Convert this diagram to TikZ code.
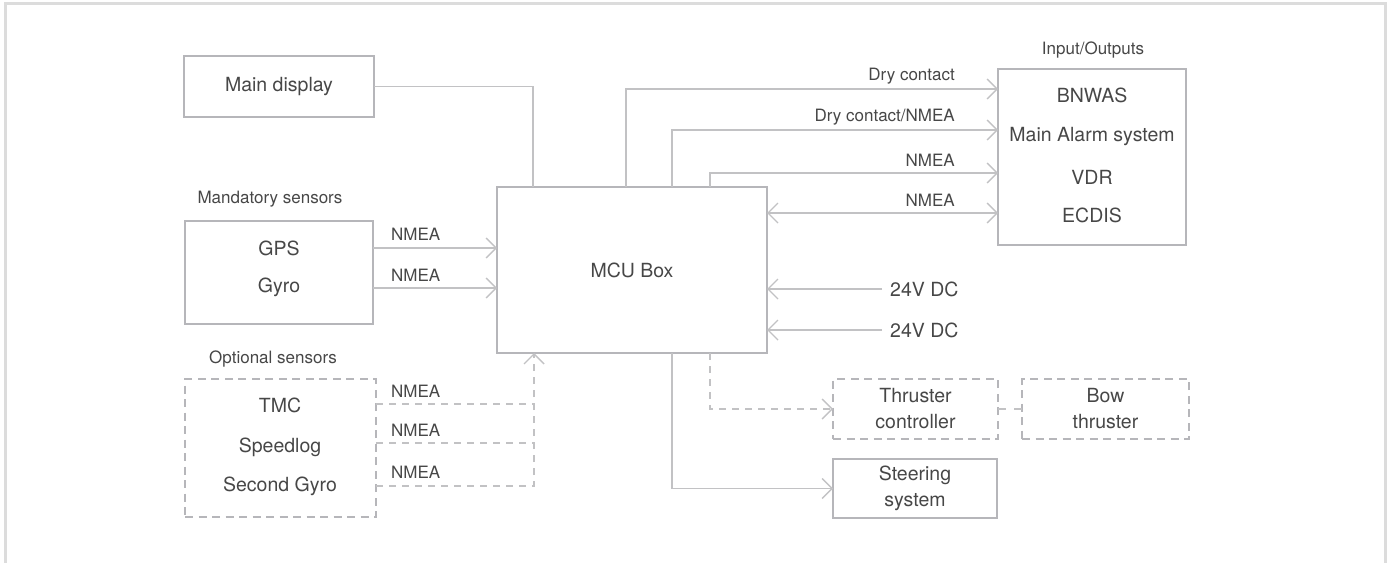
\documentclass[tikz,border=0pt]{standalone}
\usepackage{fontspec}
\setmainfont{TeX Gyre Heros}
\usetikzlibrary{arrows.meta}
\definecolor{boxc}{HTML}{B6B6BA}
\definecolor{linec}{HTML}{C2C2C4}
\definecolor{framec}{HTML}{DCDCDC}
\definecolor{txt}{HTML}{474747}
\begin{document}
\begin{tikzpicture}[x=1pt,y=-1pt,
  box/.style={draw=boxc,line width=2.6pt,inner sep=0pt,outer sep=0pt,text=txt,
    font=\fontsize{19.5}{26}\selectfont,align=center},
  dbox/.style={box,dash pattern=on 8pt off 5.5pt},
  txtm/.style={text=txt,inner sep=0pt,font=\fontsize{19.5}{26}\selectfont},
  lbl/.style={text=txt,inner sep=0pt,font=\fontsize{17}{20}\selectfont},
  conn/.style={draw=linec,line width=1.4pt},
  dconn/.style={conn,dash pattern=on 7pt off 6pt},
  arr/.style={-{Straight Barb[length=10pt,width=20pt]}},
  barr/.style={{Straight Barb[length=10pt,width=20pt]}-{Straight Barb[length=10pt,width=20pt]}}
]
\useasboundingbox (0,0) rectangle (1391,562);
\draw[draw=framec,line width=3pt] (5,563) -- (5,3.5) -- (1385,3.5) -- (1385,563);

% boxes
\node[box,minimum width=190pt,minimum height=61pt] (maindisp) at (279,86.5) {Main display};
\node[box,minimum width=188pt,minimum height=103pt] (mand) at (279,272.5) {};
\node[dbox,minimum width=191pt,minimum height=138pt] (opt) at (280.5,448) {};
\node[box,minimum width=270pt,minimum height=166pt] (mcu) at (632,270) {MCU Box};
\node[box,minimum width=188pt,minimum height=176pt] (io) at (1092,157) {};
\node[dbox,minimum width=165pt,minimum height=60pt] (thr) at (915.5,409) {Thruster\\controller};
\node[dbox,minimum width=167pt,minimum height=60pt] (bow) at (1105.5,409) {Bow\\thruster};
\node[box,minimum width=164pt,minimum height=59pt] (steer) at (915,488.5) {Steering\\system};

% box texts
\node[lbl] (mandlbl) at (270,199) {Mandatory sensors};
\node[lbl] (optlbl) at (273,359) {Optional sensors};
\node[lbl] (iolbl) at (1093,50) {Input/Outputs};
\node[txtm] (gps) at (279,248) {GPS};
\node[txtm] (gyro) at (279,287) {Gyro};
\node[txtm] (tmc) at (280,405) {TMC};
\node[txtm] (speed) at (280,447) {Speedlog};
\node[txtm] (gyro2) at (280,486) {Second Gyro};
\node[txtm] (bnwas) at (1092,95) {BNWAS};
\node[txtm] (alarm) at (1092,137) {Main Alarm system};
\node[txtm] (vdr) at (1092,177) {VDR};
\node[txtm] (ecdis) at (1092,215) {ECDIS};

% coordinates on boxes
\coordinate (mt1) at (533,187);
\coordinate (mt2) at (626,187);
\coordinate (mt3) at (672,187);
\coordinate (mt4) at (710,187);
\coordinate (mb1) at (534,353);
\coordinate (mb2) at (672,353);
\coordinate (mb3) at (710,353);
\coordinate (io1) at (998,89);
\coordinate (io2) at (998,130);
\coordinate (io3) at (998,173);

% connectors top
\draw[conn] (maindisp.east) -| (mt1);
\draw[conn,arr] (mt2) |- (io1);
\draw[conn,arr] (mt3) |- (io2);
\draw[conn,arr] (mt4) |- (io3);
\draw[conn,barr] (mcu.east |- 0,213) -- (io.west |- 0,213);
\node[lbl,anchor=east] (l1) at (955,76) {Dry contact};
\node[lbl,anchor=east] (l2) at (955,117) {Dry contact/NMEA};
\node[lbl,anchor=east] (l3) at (955,160) {NMEA};
\node[lbl,anchor=east] (l4) at (955,200) {NMEA};

% mandatory sensors
\draw[conn,arr] (mand.east |- 0,248) -- (mcu.west |- 0,248);
\draw[conn,arr] (mand.east |- 0,288) -- (mcu.west |- 0,288);
\node[lbl,anchor=west] (n1) at (391,234) {NMEA};
\node[lbl,anchor=west] (n2) at (391,275) {NMEA};

% optional sensors
\coordinate (oj1) at (534,404);
\coordinate (oj2) at (534,443);
\draw[dconn] (opt.east |- oj1) -- (oj1);
\draw[dconn] (opt.east |- oj2) -- (oj2);
\draw[dconn,arr] (opt.east |- 0,486) -| (mb1);
\node[lbl,anchor=west] (n3) at (391,391) {NMEA};
\node[lbl,anchor=west] (n4) at (391,430) {NMEA};
\node[lbl,anchor=west] (n5) at (391,472) {NMEA};

% power
\coordinate (p1) at (882,289);
\coordinate (p2) at (882,330);
\draw[conn,arr] (p1) -- (mcu.east |- p1);
\draw[conn,arr] (p2) -- (mcu.east |- p2);
\node[txtm,anchor=west] (v1) at (890,289) {24V DC};
\node[txtm,anchor=west] (v2) at (890,330) {24V DC};

% outputs below
\draw[dconn,arr] (mb3) |- (thr.west);
\draw[conn,arr] (mb2) |- (steer.west);
\draw[conn,dash pattern=on 8pt off 8pt] (thr.east) -- (bow.west);
\end{tikzpicture}
\end{document}
